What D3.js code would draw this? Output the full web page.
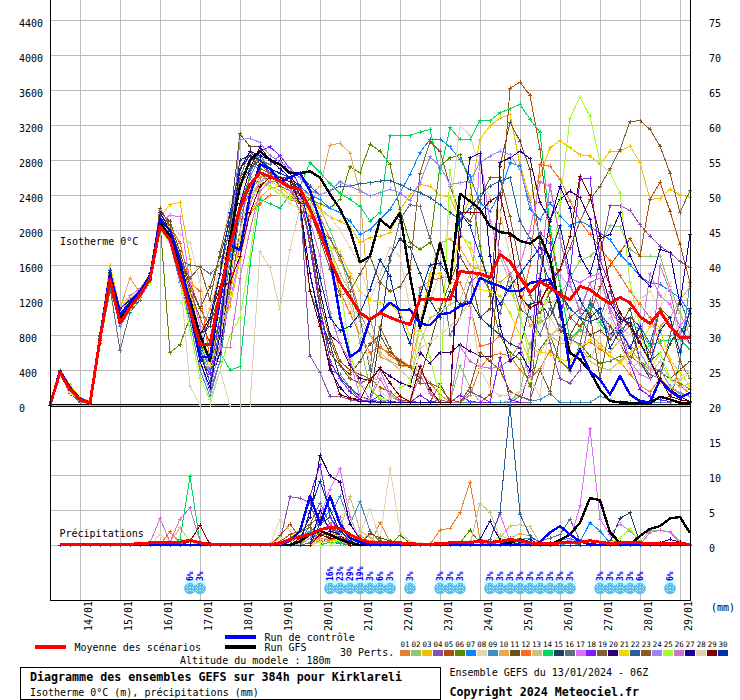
<!DOCTYPE html>
<html><head><meta charset="utf-8">
<script src="https://cdn.jsdelivr.net/npm/d3@7"></script>
<style>html,body{margin:0;padding:0;background:#fff}svg{display:block}text{font-family:"DejaVu Sans Mono",monospace;fill:#000}</style>
</head><body><svg id="c" width="740" height="700"></svg>
<script>
// Isotherm 0°C height (m), 65 six-hourly steps
const p01=[0,380,190,70,30,780,1500,1000,1150,1300,1480,2100,1950,1600,1200,800,500,1000,1600,2150,2450,2600,2650,2600,2500,2450,2350,2150,1900,1650,1450,1050,
800,650,600,520,440,380,250,120,30,30,110,420,560,590,560,400,300,420,620,520,380,650,720,640,560,500,350,220,150,300,200,130,100];
const p02=[0,360,170,60,20,740,1400,900,1100,1230,1420,2020,1880,1500,1050,650,350,800,1350,1900,2350,2550,2600,2550,2500,2500,2400,2250,2000,1700,1300,700,
200,60,40,30,30,350,130,30,30,450,200,30,30,30,40,150,700,950,1000,1250,1450,1650,1700,1800,2050,2040,1780,1700,1700,1700,1350,1050,800];
const p03=[0,400,230,90,40,800,1600,1100,1250,1330,1500,2150,2290,2315,1660,440,400,830,1130,1660,2200,2370,2480,2500,2450,2400,2350,2250,2150,2100,2040,1860,
1910,1930,1970,2230,2400,2520,2500,2400,2370,2120,2350,3035,3190,3280,3320,2750,2350,2620,2940,3020,2940,2860,2845,2750,2900,2900,2960,2770,2350,2360,2465,2405,2375];
const p04=[0,350,130,30,20,720,1350,1000,1180,1270,1440,2100,1850,1400,1000,500,150,500,1300,2000,2650,2900,2800,2700,2600,2400,560,370,100,100,60,40,
60,40,30,30,30,30,30,30,30,30,150,100,30,30,30,30,30,1300,700,300,250,400,1050,1700,2275,2280,2225,2060,1930,1815,1740,1640,1570];
const p05=[0,370,170,60,20,760,1480,960,1130,1270,1450,2150,2000,1650,1400,1100,900,1300,1700,2300,2700,2850,2700,2550,2500,2450,2000,1300,800,500,400,350,
300,200,150,60,40,30,30,250,30,30,30,30,120,2080,3620,3690,3540,2920,1930,1360,1000,900,1050,1350,1600,1750,1900,1700,2350,2545,2215,1835,1400];
const p06=[0,340,150,40,20,700,1300,1000,1200,1300,1500,2100,600,690,1000,700,500,1000,1600,2300,2600,2650,2550,2500,2400,2300,2350,2300,2250,2350,2725,2655,
2980,2900,2750,2235,1855,1780,1855,2730,2825,2860,2540,1815,1245,790,600,520,215,640,800,500,400,700,560,480,500,560,560,480,450,380,300,250,180];
const p07=[0,370,170,60,20,750,1450,950,1100,1250,1450,2050,1950,1650,1200,700,400,1000,1700,2200,2500,2700,2650,2600,2550,2500,2400,2350,2250,2200,2100,1950,
2005,2120,2235,2425,2635,2885,3035,3040,2950,2805,2615,2310,2215,2425,2770,2730,2235,2120,2310,2160,2045,2100,2045,1965,1890,1720,1605,1470,1395,1380,1300,1225,1050];
const p08=[0,350,140,40,20,720,1350,1050,1250,1320,1480,2100,2050,1950,1850,1400,900,1700,2310,2500,2600,2650,2500,2450,2300,2250,2300,2200,2150,2000,1800,1600,
1200,1500,1800,1700,1100,1000,1200,1500,2200,3200,3080,2700,2350,2200,1700,1400,1000,1100,1200,1150,1050,1000,1050,900,1200,900,800,1200,1300,1100,1400,600,1000];
const p09=[0,380,180,60,20,760,1500,900,1080,1230,1400,2000,1850,1400,950,400,100,500,1400,2200,2600,2850,2700,2600,2500,2200,1300,1000,400,350,200,60,
30,30,30,30,30,30,30,60,30,30,30,30,30,30,30,100,50,60,130,30,30,30,30,100,60,30,30,30,30,30,30,500,1400];
const p10=[0,370,170,60,20,760,1450,1100,1450,1280,1400,2020,1900,1600,1300,800,1100,1500,1900,2300,2500,2550,2500,2450,2500,2450,2400,2500,2970,2990,2880,2430,
1000,550,500,450,430,900,1500,1850,1900,1800,1600,1550,1500,1400,1500,1300,900,1000,800,700,700,850,800,700,600,750,650,500,400,900,1000,1200,1350];
const p11=[0,350,160,40,20,740,1450,980,1150,1280,1500,2200,2100,1750,1350,1100,1350,1700,2100,3100,2950,2950,2800,2700,2600,2400,1900,1100,600,450,350,500,
700,800,600,500,430,300,700,1100,1400,1700,1500,1000,1100,2730,3230,3015,2690,1850,1170,850,800,1000,800,850,750,900,1100,700,500,600,300,400,500];
const p12=[0,360,170,60,20,750,1430,930,1100,1240,1430,2100,2050,1850,1400,1300,500,900,1400,1800,2200,2300,2400,2400,2350,2300,2150,2050,1700,1300,1050,800,
600,670,570,480,440,1340,1420,1450,1460,1400,1130,670,700,790,700,1100,1600,2750,2730,2580,2330,2100,1950,1800,1650,1480,1300,1150,1000,700,500,220,130];
const p13=[0,380,180,70,20,770,1480,1000,1170,1300,1450,2080,1950,1650,1250,800,550,900,1500,2000,2400,2550,2500,2450,2350,2400,2300,2100,1800,1500,1300,950,
800,600,500,400,300,700,1000,1050,1150,1200,1500,1600,1500,1700,1400,1000,650,600,780,900,750,680,500,430,400,500,600,450,350,500,300,200,250];
const p14=[0,380,200,70,30,790,1500,970,1150,1280,1440,2000,1900,1550,1050,600,500,600,400,440,1600,2350,2300,2250,2400,2500,2770,2660,2530,2420,2350,2270,
2100,2200,3080,3080,3080,3120,3150,2650,3170,3035,3035,3250,3250,3340,3385,3435,3265,3120,2040,1360,750,860,1110,940,790,860,940,860,670,730,740,750,635];
const p15=[0,390,180,60,30,780,1520,1000,1180,1290,1470,2150,2000,1600,1200,800,900,1500,2050,2800,2850,2700,2650,2600,2550,2300,1500,1000,700,300,200,100,
60,800,1700,1900,1800,1500,1200,1000,1300,1150,1200,1000,900,800,700,650,1150,1180,1000,1300,1100,1000,950,1000,800,950,1000,500,300,400,700,900,700];
const p16=[0,340,160,50,20,720,1350,620,1060,1200,1480,2100,1950,1650,1600,1580,1500,1600,2000,2700,2900,2800,2750,2850,2700,2500,2250,2000,1900,1700,1400,1000,
400,1400,1650,2120,2290,2270,1900,1600,800,1000,1400,1500,1300,1050,1500,1100,1000,800,1100,900,750,700,1200,1000,1300,1000,900,500,350,300,800,1200,900];
const p17=[0,370,170,60,20,760,1430,1000,1250,1330,1470,2080,2170,2150,1400,900,350,700,1200,1700,2300,2550,2650,2550,2500,2400,2300,2050,1600,1000,500,100,
50,400,130,40,30,450,150,30,30,30,1000,2850,2100,1750,1500,1600,2000,2550,2500,1900,1450,1400,1470,1500,1050,800,900,700,1500,1250,1150,900,1050];
const p18=[0,360,170,60,20,740,1400,1000,1180,1280,1430,2050,1900,1500,1150,550,350,1000,1800,2500,2800,2900,2950,2850,2700,2500,1800,1100,500,300,150,60,
40,110,40,30,30,110,40,30,30,110,40,30,30,540,60,30,400,1970,1850,1000,1500,2580,2590,1660,1360,800,480,180,100,60,40,30,30];
const p19=[0,370,180,60,20,750,1450,1020,1200,1300,1500,2180,2050,1650,1450,1580,1200,1750,2200,2600,2750,2700,2650,2600,2500,2400,2200,1900,1550,1250,1300,1500,
1700,1400,1300,1350,1550,2650,3010,2900,2500,2200,2100,2350,2600,2600,2150,1600,1250,1050,1300,1550,1800,2100,2350,2500,2700,2920,3240,3250,3150,2960,2650,2200,2450];
const p20=[0,380,200,70,30,770,1500,1100,1200,1300,1500,2200,2000,1600,1100,600,250,600,1500,2300,2700,2950,2800,2800,2650,2400,2050,1300,800,700,450,300,
290,410,330,255,215,600,480,600,600,690,615,560,560,2770,2825,2900,2815,2310,2120,2350,2445,2370,2120,1550,1170,980,940,710,520,255,180,100,40];
const p21=[0,400,220,80,30,790,1550,1050,1180,1300,1460,2120,2020,1700,1250,750,450,800,1250,1900,2350,2500,2550,2500,2400,2350,2200,1950,1800,1750,1500,1300,
1200,1170,1150,1050,800,860,1470,1510,1390,1970,1780,1320,1300,1245,1050,790,480,615,575,520,500,655,750,670,560,480,600,670,900,860,520,370,215];
const p22=[0,390,190,70,20,780,1500,980,1130,1270,1450,2100,1950,1550,1150,650,250,900,1900,2500,2700,2800,2650,2600,2600,2650,2500,2400,2450,2500,2500,2530,
2540,2560,2565,2520,2465,2425,2370,2290,2200,2120,2250,2400,2500,2560,2600,2100,1900,1700,1400,1250,1100,1000,1150,1050,900,800,1000,900,700,1100,900,800,1050];
const p23=[0,360,160,50,20,740,1420,960,1120,1250,1420,2250,2050,1700,1300,1000,700,1200,1900,2600,2900,2750,2650,2500,2450,2300,1900,1200,750,450,300,250,
300,900,650,450,450,250,250,200,60,30,200,600,500,400,150,100,60,400,150,800,1000,1100,1050,300,900,700,500,800,600,1100,1000,500,300];
const p24=[0,370,170,60,20,750,1460,940,1110,1260,1440,2060,1920,1500,1000,500,150,700,1800,3030,3050,3000,2850,2780,2700,2600,2450,2400,2450,2550,2500,2450,
2390,2425,2465,2425,2340,2540,2835,2730,2520,2540,2560,2770,2845,2900,2860,2690,2310,1930,1550,1475,1360,1090,1395,1090,790,865,670,600,410,410,215,140,100];
const p25=[0,380,190,70,30,770,1480,950,1090,1240,1400,2000,1850,1450,850,300,60,400,800,1000,1700,2540,2500,2400,2350,2350,2300,2100,1800,1400,600,210,
200,80,60,200,250,900,540,80,2690,1930,1850,1510,1400,1360,1320,1050,500,1000,1350,2310,3280,3520,3300,2770,2650,2420,1400,900,400,600,300,280,370];
const p26=[0,370,170,60,20,750,1440,950,1120,1260,1430,2060,1880,1450,1050,750,500,650,660,1450,2000,2450,2550,2550,2450,2350,2100,1700,1050,700,500,250,
60,300,100,40,30,350,130,30,30,670,500,440,420,430,520,700,300,1500,2520,1900,1400,1050,1400,1450,1100,900,500,350,300,1600,1300,800,700];
const p27=[0,360,160,50,20,740,1440,1010,1150,1260,1430,2070,1900,1500,1050,500,200,800,1900,2700,2900,2850,2800,2700,2600,2300,1500,950,400,200,80,40,
40,30,30,30,30,30,30,30,30,1930,2825,2880,1700,900,500,600,400,1450,2100,2500,2250,1700,1500,1900,1950,2195,1700,1470,1360,1780,1740,1150,1950];
const p28=[0,340,150,50,20,720,1380,1020,1220,1300,1450,2080,1950,1500,210,0,0,400,0,0,0,1750,1570,1090,1780,2250,2300,2000,1700,1450,1150,800,
500,150,80,100,50,650,720,800,900,1000,1200,400,200,100,120,150,300,100,1000,800,600,500,500,800,1000,700,400,500,450,250,200,300,400];
const p29=[0,370,170,60,20,760,1460,980,1140,1270,1450,2070,1930,1600,1200,800,1000,1350,1400,1700,2200,2500,2600,2600,2550,2300,1300,900,450,120,80,60,
280,425,250,100,40,440,180,30,30,2200,2200,2200,2330,2400,1930,1240,1110,1170,1400,1550,1930,2615,2390,1930,1360,1050,900,700,500,300,100,60,40];
const p30=[0,380,190,70,30,790,1540,1100,1200,1310,1500,2120,1980,1620,1180,620,1000,1500,2200,2700,2850,2800,2700,2650,2600,2500,2000,1450,1000,850,900,1050,
1320,1660,1470,1000,700,1250,1600,1620,1450,2200,2050,1700,1400,1150,1350,1500,1650,1800,1700,2050,1500,1200,1000,1100,650,850,650,900,500,850,1000,600,1100];
const control=[0,390,200,70,30,780,1500,1030,1170,1300,1470,2120,2000,1650,1150,550,550,1200,1830,1770,2400,2750,2700,2550,2600,2650,2450,2100,1700,1010,550,630,
980,1055,1170,1085,1090,930,910,1035,1055,1130,1170,1455,1395,1360,1300,1300,1395,1415,1435,1170,405,635,385,290,120,330,120,45,30,290,160,80,140];
const gfs=[0,370,170,60,20,750,1440,980,1140,1270,1440,2080,1930,1550,1200,800,500,1250,1900,2500,2800,2900,2800,2750,2650,2650,2670,2600,2410,2240,2000,1630,
1700,2120,2025,2195,1475,880,1320,1855,1395,2415,2330,2235,2045,1975,1960,1875,1845,1930,1665,1090,595,520,385,175,45,30,25,15,20,95,65,25,20];
const mean=[0,370,175,60,20,750,1435,940,1115,1260,1435,2040,1890,1490,1090,690,690,1285,1810,2255,2520,2655,2610,2555,2485,2475,2235,1970,1660,1400,1230,1055,
975,1055,1000,955,920,1205,1215,1205,1205,1525,1515,1500,1460,1720,1640,1460,1285,1410,1340,1260,1205,1355,1320,1230,1160,1230,1170,1010,930,1070,900,770,770];

// Precipitation (mm): [step, value]; unlisted steps are dry
const r01=[[13,.3],[14,.6],[23,.3],[24,1],[25,.8],[26,1.5],[27,1.2],[28,2],[29,1],[30,.3],[33,3.2],[34,.5],[37,.2],[38,.1],[39,2.1],[40,2.4],[41,4.6],[42,9],[43,.8],[44,.5],[45,.3],[46,.5],[47,1],[48,.4]];
const r02=[[24,.1],[27,.5],[28,.8],[29,.4],[41,.2],[59,.5],[60,2.1],[61,2.1],[62,1.9],[63,.5],[64,.1]];
const r03=[[11,.3],[12,.2],[14,.7],[15,.2],[25,.8],[26,1.5],[27,1.5],[28,1],[29,.5],[42,.1],[43,.1],[44,.1]];
const r04=[[23,.5],[24,6.9],[25,6.7],[26,6],[27,2],[28,1],[29,.4],[30,.2]];
const r05=[[23,1.3],[24,3],[25,1],[26,2],[27,1.6],[28,.8],[29,.3],[45,.5],[48,.3]];
const r06=[[26,.3],[27,.6],[28,.4],[29,.2],[35,1.4],[36,.3],[41,.3],[42,2.1],[43,.3],[44,.1],[56,.6],[57,.5]];
const r07=[[26,2],[27,3],[28,5],[29,2],[30,.6],[51,.8],[52,.9],[53,.4],[54,3.2],[55,2],[56,.3]];
const r08=[[11,1.5],[12,.4],[23,3.7],[24,2],[26,1],[27,.5],[28,.8],[29,.5],[31,1.6],[32,5.1],[33,.8],[34,11],[35,2],[36,.5],[37,.3]];
const r09=[[26,2],[27,3],[28,4],[29,7],[30,3],[31,6.2],[32,2],[33,.5],[47,.8],[48,1],[49,.5],[52,.3]];
const r10=[[26,1.5],[27,1],[28,.8],[29,.4],[30,1],[31,1],[32,.3],[46,1],[47,1.6],[48,1.3],[49,.3]];
const r11=[[28,1.5],[29,.7],[30,.4],[31,.3],[32,1.6],[33,1],[34,.6],[35,.3],[46,.3]];
const r12=[[12,1.9],[13,.3],[27,1],[28,.6],[29,1.3],[30,.6],[31,1.3],[32,.5],[46,.2],[47,.7],[48,.3]];
const r13=[[12,.4],[13,2.5],[14,.5],[29,2],[30,7],[31,2],[32,1.1],[43,6],[44,4.7],[45,1],[46,2.7],[47,2.9],[48,2.6],[49,.3]];
const r14=[[13,.8],[14,9.8],[15,.3],[28,.4],[29,.3]];
const r15=[[27,3],[28,4],[29,2],[30,.8],[46,1],[50,.3],[51,.5],[52,.6],[56,.4],[57,3.8],[58,4.6],[59,.3]];
const r16=[[26,3],[27,6],[28,3],[29,1.5],[46,.7],[49,.5],[50,1],[51,1.5],[52,3.7],[53,.6]];
const r17=[[26,1],[27,4],[28,8],[29,10.9],[30,4],[31,.5],[44,.8],[45,4.4],[46,.5],[52,.6],[53,5.6],[54,16.6],[55,3.7],[56,1.5],[57,3],[58,2],[59,.5]];
const r18=[[25,2],[26,7],[27,11.5],[28,4],[29,1.5],[30,.5]];
const r19=[[24,1],[25,2],[26,3],[27,4],[28,2.5],[29,1],[30,.5],[41,.2],[42,.4],[43,.3]];
const r20=[[25,1],[26,4],[27,12.8],[28,9.9],[29,9],[30,3],[31,.8]];
const r21=[[27,.4],[28,.5],[29,.8],[42,.1],[43,.1],[44,.2]];
const r22=[[26,1],[27,2],[28,3],[29,1],[44,.8],[45,4.6],[46,19.9],[47,4.4],[48,1.3],[49,.3]];
const r23=[[22,.1],[23,.5],[24,1.5],[25,2],[26,2.5],[27,1.5],[28,1.5],[29,.8],[33,.6],[34,.4],[35,.3]];
const r24=[[26,1],[27,2],[28,1.5],[29,.8],[46,.2],[47,.3]];
const r25=[[29,.8],[30,.2],[45,1.4],[46,.8],[56,.3],[57,1],[58,2.3],[59,.4]];
const r26=[[10,.3],[11,3.8],[12,.4],[13,3.7],[14,5.3],[15,.5],[27,2],[28,3],[29,4],[60,1.8],[61,2.1],[62,1.8],[63,.3]];
const r27=[[27,5],[28,2],[29,1.5],[43,.8],[44,3.4],[45,.7],[61,.3],[62,.8],[63,.4]];
const r28=[[23,1],[24,.6],[27,.8],[28,1],[29,1.4],[30,.8]];
const r29=[[14,.5],[15,2.8],[16,.1],[27,1.5],[28,1],[29,1],[46,.5]];
const r30=[[26,5],[27,9.1],[28,5],[29,2],[30,.6],[47,.3],[48,.8]];
const rControl=[[24,.6],[25,2],[26,7],[27,3],[28,7],[29,3],[30,1],[31,.4],[49,.4],[50,1.8],[51,2.7],[52,1.5],[53,.5],[54,.1]];
const rGfs=[[25,.5],[26,1.5],[27,2],[28,1.5],[29,.8],[30,.3],[46,.3],[47,.8],[48,.3],[51,.7],[52,1.5],[53,3.2],[54,6.7],[55,6.4],[56,1.8],[57,.3],[59,1.3],[60,2.3],[61,2.7],[62,3.8],[63,4],[64,1.7]];
const rMean=[0,.05,.05,.05,.05,.05,.05,.05,.1,.2,.3,.3,.3,.4,.7,.3,.1,.1,.05,.05,.05,.1,.1,.2,.8,1.2,1.5,2.2,2.5,2.4,1.5,.8,.4,.3,.3,.3,.2,.1,.1,.2,.3,.4,.4,.5,.4,.5,.8,.6,.3,.2,.2,.3,.3,.4,.6,.4,.2,.3,.3,.3,.2,.2,.2,.2,.1];

const pertColors=["#e67e30","#8cc86e","#f0c000","#8a4fa8","#b04f0a","#5a8a00","#0a84ff","#e6d5b0","#3f8fbf","#e8a850","#6b5020","#ff6a1a","#d0c080","#00d860","#204060","#607080","#e070ff","#7a20ff","#806030","#300070","#f0d800","#2a6098","#8a5a20","#9a88f0","#a0ff30","#d070d0","#200098","#e0d0b0","#800000","#0030b0"];
const heightTicks=[0,400,800,1200,1600,2000,2400,2800,3200,3600,4000,4400];
const rightTicks=[0,5,10,15,20,25,30,35,40,45,50,55,60,65,70,75];
const dayTicks=[3,7,11,15,19,23,27,31,35,39,43,47,51,55,59,63];
const dayLabels=["14/01","15/01","16/01","17/01","18/01","19/01","20/01","21/01","22/01","23/01","24/01","25/01","26/01","27/01","28/01","29/01"];
const snowSteps=[14,15,28,29,30,31,32,33,34,36,39,40,41,44,45,46,47,48,49,50,51,52,55,56,57,58,59,62];
const snowPct=[6,3,16,23,29,19,3,6,3,3,3,3,3,3,3,3,3,3,3,3,3,3,3,3,3,3,6,6];

const pertH=[p01,p02,p03,p04,p05,p06,p07,p08,p09,p10,p11,p12,p13,p14,p15,p16,p17,p18,p19,p20,p21,p22,p23,p24,p25,p26,p27,p28,p29,p30];
const pertR=[r01,r02,r03,r04,r05,r06,r07,r08,r09,r10,r11,r12,r13,r14,r15,r16,r17,r18,r19,r20,r21,r22,r23,r24,r25,r26,r27,r28,r29,r30];

const svg=d3.select("#c");
const x=d3.scaleLinear().domain([0,64]).range([50,690]);
const yH=d3.scaleLinear().domain([0,4400]).range([405,20]);
const yR=d3.scaleLinear().domain([0,75]).range([545,20]);
const fullR=pairs=>{const m=new Map(pairs);return d3.range(1,65).map(i=>[i,m.get(i)||0]);};
const fullH=a=>a.map((v,i)=>[i,v]);

// grid + axes
const gRight=svg.append("g").attr("transform","translate(690,0)")
  .call(d3.axisRight(yR).tickValues(rightTicks).tickSize(-640).tickFormat(d3.format("d")));
gRight.select(".domain").remove();
gRight.selectAll("line").attr("stroke","#bbb").attr("shape-rendering","crispEdges");
gRight.selectAll("text").attr("x",19).attr("dy",0).attr("y",6).attr("text-anchor","start").attr("font-size",10).attr("font-family","DejaVu Sans Mono");
const gLeft=svg.append("g").attr("transform","translate(50,0)")
  .call(d3.axisLeft(yH).tickValues(heightTicks).tickSize(0).tickFormat(d3.format("d")));
gLeft.select(".domain").remove();
gLeft.selectAll("text").attr("x",-31).attr("dy",0).attr("y",6).attr("text-anchor","start").attr("font-size",10).attr("font-family","DejaVu Sans Mono");
const gBottom=svg.append("g").attr("transform","translate(0,600)")
  .call(d3.axisBottom(x).tickValues(dayTicks).tickSize(-600).tickFormat((d,i)=>dayLabels[i]));
gBottom.select(".domain").remove();
gBottom.selectAll("line").attr("stroke","#bbb").attr("shape-rendering","crispEdges");
gBottom.selectAll("text").attr("transform","translate(11,31) rotate(-90)").attr("x",0).attr("y",0).attr("dy",0)
  .attr("text-anchor","start").attr("font-size",10).attr("font-family","DejaVu Sans Mono");

// snow
const snow=svg.append("g");
const snowData=snowSteps.map((s,i)=>({s,p:snowPct[i]}));
snow.selectAll("rect").data(snowData).join("rect").attr("x",d=>x(d.s)-5).attr("y",579).attr("width",11).attr("height",5).attr("fill","#ccffff");
snow.selectAll("circle").data(snowData).join("circle").attr("cx",d=>x(d.s)).attr("cy",588.5).attr("r",5.8).attr("fill","#58bdea");
snow.selectAll("path").data(snowData).join("path").attr("stroke","#bfe8fb").attr("stroke-width",1).attr("fill","none").attr("shape-rendering","crispEdges")
  .attr("stroke-dasharray","1 2")
  .attr("d",d=>{const c=x(d.s);return `M${c-4},587.5H${c+5}M${c-4},590.5H${c+5}M${c-3},584.5H${c+4}M${c+.5},584V593M${c-2.5},585V592M${c+3.5},585V592`;});
snow.selectAll("text").data(snowData).join("text").text(d=>d.p+"%")
  .attr("transform",d=>`translate(${x(d.s)+2.5},581) rotate(-90)`).attr("font-size",8).attr("font-weight","bold").style("fill","#0000ff");

// series
const line=d3.line().x(d=>x(d[0])).y(d=>d[1]);
const toH=a=>fullH(a).map(d=>[d[0],yH(d[1])]);
const toR=a=>a.map(d=>[d[0],yR(d[1])]);
const crosses=pts=>pts.map(d=>{const c=x(d[0]);return `M${c-2},${d[1]}H${c+2}M${c},${d[1]-2}V${d[1]+2}`;}).join("");
const series=svg.append("g").attr("fill","none").attr("stroke-linejoin","round").attr("shape-rendering","crispEdges");
pertH.forEach((a,i)=>{
  const c=pertColors[i],h=toH(a);
  series.append("path").attr("d",line(h)).attr("stroke",c);
  series.append("path").attr("d",crosses(h)).attr("stroke",c);
});
pertR.forEach((a,i)=>{
  const c=pertColors[i],r=toR(fullR(a));
  series.append("path").attr("d",line(r)).attr("stroke",c);
  series.append("path").attr("d",crosses(r)).attr("stroke",c);
});
// double baseline of the height panel
svg.append("g").attr("shape-rendering","crispEdges").selectAll("line").data([404.5,406.5]).join("line")
  .attr("x1",50).attr("x2",690).attr("y1",d=>d).attr("y2",d=>d).attr("stroke","#000");
[[gfs,rGfs,"#000",2.4],[control,rControl,"#0000ff",2.4],[mean,null,"#ff0000",3]].forEach(([h,r,c,w])=>{
  series.append("path").attr("d",line(toH(h))).attr("stroke",c).attr("stroke-width",w);
  const rr=r?fullR(r):rMean.map((v,i)=>[i,v]).slice(1);
  series.append("path").attr("d",line(toR(rr))).attr("stroke",c).attr("stroke-width",w);
});
series.raise();

// frame
svg.append("path").attr("d","M50.5,0V600.5H690.5V0").attr("fill","none").attr("stroke","#000").attr("shape-rendering","crispEdges");

// text annotations
const T=(s,xp,yp,size,bold)=>svg.append("text").text(s).attr("x",xp).attr("y",yp).attr("font-size",size).attr("font-weight",bold?"bold":"normal").style("fill","#000");
T("Isotherme 0°C",60,245,10);
T("Précipitations",59.5,537,10);
T("(mm)",711,611,10);
T("Moyenne des scénarios",74.5,651,10);
T("Run de contrôle",264.5,641,10);
T("Run GFS",264.5,651,10);
T("30 Perts.",340,656,10);
T("Altitude du modele : 180m",180,664,10);
T("Ensemble GEFS du 13/01/2024 - 06Z",449.5,676,10);
T("Copyright 2024 Meteociel.fr",449.5,696,11.67,true);
svg.append("rect").attr("x",20.5).attr("y",667.5).attr("width",420).attr("height",31.5).attr("fill","none").attr("stroke","#000").attr("shape-rendering","crispEdges");
T("Diagramme des ensembles GEFS sur 384h pour Kirklareli",30,681,11.67,true);
T("Isotherme 0°C (m), précipitations (mm)",30,696,10);

// legends
const legendLines=[[35,66,647,"#ff0000"],[225,256,637,"#0000ff"],[225,256,647,"#000"]];
svg.append("g").selectAll("line").data(legendLines).join("line")
  .attr("x1",d=>d[0]).attr("x2",d=>d[1]).attr("y1",d=>d[2]).attr("y2",d=>d[2]).attr("stroke",d=>d[3]).attr("stroke-width",4).attr("shape-rendering","crispEdges");
const lg=svg.append("g");
lg.selectAll("rect").data(pertColors).join("rect").attr("x",(d,i)=>400+i*10.97).attr("y",650).attr("width",10).attr("height",6).attr("fill",d=>d).attr("shape-rendering","crispEdges");
lg.selectAll("text").data(pertColors).join("text").text((d,i)=>String(i+1).padStart(2,"0"))
  .attr("x",(d,i)=>405+i*10.97).attr("y",647).attr("text-anchor","middle").attr("font-size",7.5);
</script></body></html>
